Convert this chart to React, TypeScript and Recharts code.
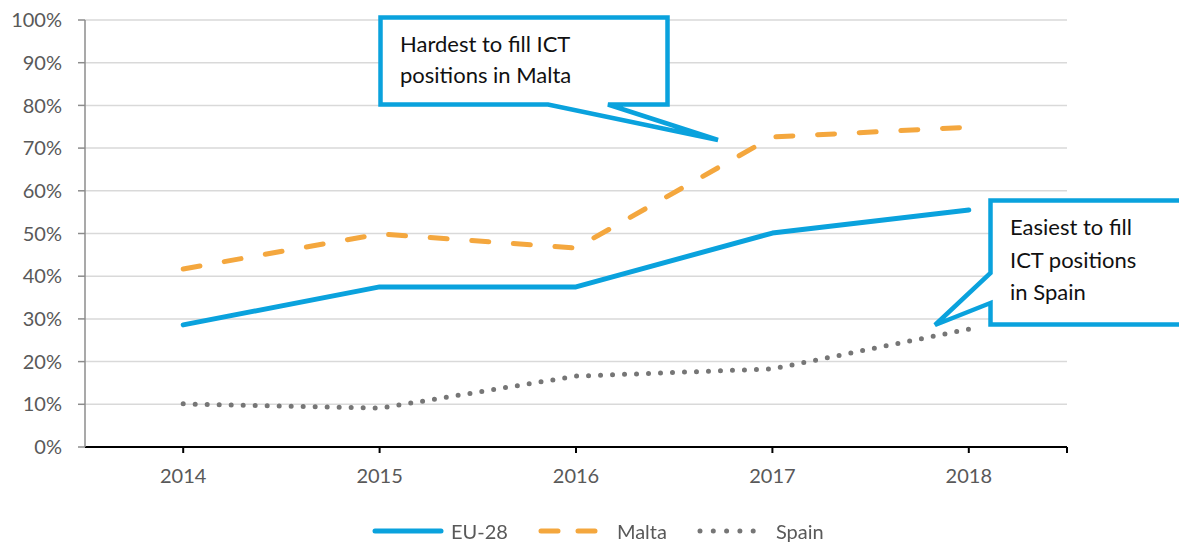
import React from 'react';
import { LineChart, Line, XAxis, YAxis, CartesianGrid } from 'recharts';

const years = ['2014', '2015', '2016', '2017', '2018'];
const eu28 = [28.6, 37.5, 37.5, 50.1, 55.5];
const malta = [41.7, 49.9, 46.6, 72.6, 74.9];
const spain = [10.1, 9.1, 16.6, 18.3, 27.6];
const yTicks = [0, 10, 20, 30, 40, 50, 60, 70, 80, 90, 100];

const BLUE = '#0AA2DD';
const ORANGE = '#F4A73E';
const GRAY = '#767676';
const FONT = 'Lato, "Open Sans", sans-serif';

const data = years.map((y, i) => ({ idx: i, year: y, eu28: eu28[i], malta: malta[i], spain: spain[i] }));

const series = [
  { key: 'eu28', name: 'EU-28', color: BLUE, dash: undefined as string | undefined },
  { key: 'malta', name: 'Malta', color: ORANGE, dash: '17 24.7' },
  { key: 'spain', name: 'Spain', color: GRAY, dash: '0 12' },
];

const legendSample: Record<string, string | undefined> = {
  eu28: undefined,
  malta: '17 20',
  spain: '0 13.3',
};

export default function App() {
  return (
    <div style={{ position: 'fixed', left: 0, top: 0, width: 1179, height: 542, background: '#fff', fontFamily: FONT }}>
      <LineChart width={1179} height={542} data={data} margin={{ top: 20, right: 112, left: 0, bottom: 55 }} style={{ fontFamily: FONT }}>
        <CartesianGrid vertical={false} stroke="#D9D9D9" strokeWidth={1.5} />
        <XAxis
          dataKey="idx"
          type="number"
          domain={[-0.5, 4.5]}
          ticks={[0, 1, 2, 3, 4, 4.5]}
          interval={0}
          tickFormatter={(v: number) => (Number.isInteger(v) ? years[v] : '')}
          height={40}
          stroke="#000"
          strokeWidth={2}
          tickSize={6}
          tickMargin={16}
          tick={{ fill: '#595959', fontSize: 20, fontFamily: FONT }}
        />
        <YAxis
          domain={[0, 100]}
          ticks={yTicks}
          interval={0}
          tickFormatter={(v: number) => `${v}%`}
          width={85}
          stroke="#8C8C8C"
          strokeWidth={1.5}
          tickSize={7}
          tickMargin={16}
          tick={{ fill: '#595959', fontSize: 20, fontFamily: FONT }}
        />
        {series.map((s) => (
          <Line
            key={s.key}
            dataKey={s.key}
            name={s.name}
            type="linear"
            stroke={s.color}
            strokeWidth={5}
            strokeDasharray={s.dash}
            strokeLinecap="round"
            strokeLinejoin="round"
            dot={false}
            activeDot={false}
            isAnimationActive={false}
          />
        ))}
      </LineChart>
      <svg width={1179} height={542} style={{ position: 'absolute', left: 0, top: 0, pointerEvents: 'none', fontFamily: FONT }}>
        <path
          d="M380.5,17.5 H667.5 V104.5 H608 L718,140 L548,104.5 H380.5 Z"
          fill="#fff"
          stroke={BLUE}
          strokeWidth={4.5}
        />
        <text x={400} y={52} fontSize={22} fill="#111">Hardest to fill ICT</text>
        <text x={400} y={83} fontSize={22} fill="#111">positions in Malta</text>
        <path
          d="M990.5,200.5 H1195 V324.5 H990.5 V303 L935,325 L990.5,273 Z"
          fill="#fff"
          stroke={BLUE}
          strokeWidth={4.5}
        />
        <text x={1010} y={235} fontSize={22} fill="#111">Easiest to fill</text>
        <text x={1010} y={268} fontSize={22} fill="#111">ICT positions</text>
        <text x={1010} y={300} fontSize={22} fill="#111">in Spain</text>
      </svg>
      <div style={{ position: 'absolute', left: 372, top: 518, display: 'flex', alignItems: 'center', gap: 30, fontSize: 20, color: '#595959', fontFamily: FONT }}>
        {series.map((s) => (
          <div key={s.key} style={{ display: 'flex', alignItems: 'center', gap: 7 }}>
            <svg width={72} height={26}>
              <line x1={3} y1={13} x2={69} y2={13} stroke={s.color} strokeWidth={5} strokeLinecap="round" strokeDasharray={legendSample[s.key]} />
            </svg>
            <span>{s.name}</span>
          </div>
        ))}
      </div>
    </div>
  );
}
